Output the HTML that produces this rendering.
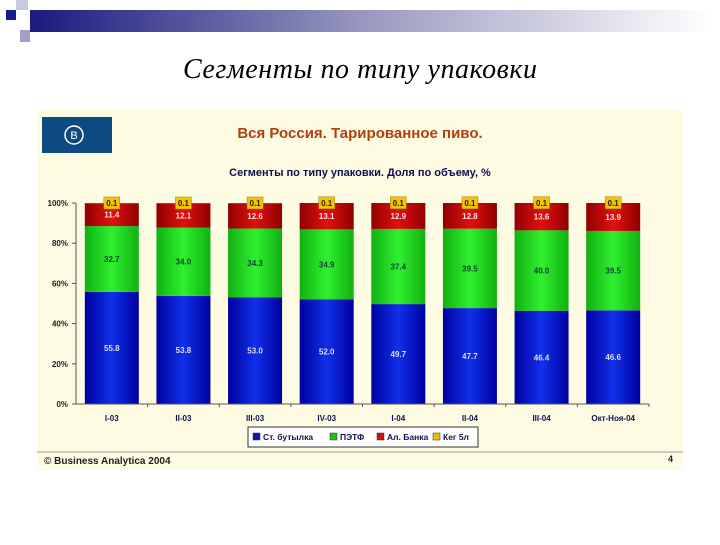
<!DOCTYPE html>
<html><head><meta charset="utf-8"><style>
body{margin:0;width:720px;height:540px;background:#fff;overflow:hidden;font-family:"Liberation Sans",sans-serif}
</style></head><body>
<svg width="720" height="540" xmlns="http://www.w3.org/2000/svg">
<defs>
<linearGradient id="ban" x1="0" x2="1"><stop offset="0" stop-color="#1a1a80"/><stop offset="0.5" stop-color="#9a9ac0"/><stop offset="1" stop-color="#fff"/></linearGradient>
<linearGradient id="gb" x1="0" x2="1"><stop offset="0" stop-color="#0000a0"/><stop offset="0.5" stop-color="#1030e8"/><stop offset="1" stop-color="#0000a0"/></linearGradient>
<linearGradient id="gg" x1="0" x2="1"><stop offset="0" stop-color="#10b010"/><stop offset="0.5" stop-color="#30f030"/><stop offset="1" stop-color="#10b010"/></linearGradient>
<linearGradient id="gr" x1="0" x2="1"><stop offset="0" stop-color="#900000"/><stop offset="0.5" stop-color="#e01010"/><stop offset="1" stop-color="#900000"/></linearGradient>
</defs>
<g>
<rect x="30" y="10" width="680" height="22" fill="url(#ban)"/>
<rect x="6" y="10" width="10" height="10" fill="#1a1a90"/>
<rect x="16" y="0" width="12" height="10" fill="#c8c8e0"/>
<rect x="20" y="30" width="10" height="12" fill="#a0a0c8"/>
</g>
<text x="360" y="78" text-anchor="middle" font-family="Liberation Serif" font-style="italic" font-size="28" textLength="354">Сегменты по типу упаковки</text>
<rect x="37" y="110" width="646" height="360" fill="#fdfbe2"/>
<rect x="42" y="117" width="70" height="36" fill="#0e4a80"/>
<circle cx="74" cy="135" r="9" fill="none" stroke="#fff" stroke-width="1.5"/>
<text x="74" y="139" text-anchor="middle" fill="#fff" font-size="11">B</text>
<text x="360" y="138" text-anchor="middle" fill="#b04010" font-weight="bold" font-size="15">Вся Россия. Тарированное пиво.</text>
<text x="360" y="176" text-anchor="middle" fill="#101050" font-weight="bold" font-size="11">Сегменты по типу упаковки. Доля по объему, %</text>
<g id="plot"></g>
<line x1="37" y1="452" x2="683" y2="452" stroke="#999"/>
<text x="44" y="464" font-size="10" font-weight="bold" fill="#222">© Business Analytica 2004</text>
<text x="668" y="462" font-size="9" font-weight="bold" fill="#222">4</text>
</svg>
<script>
const categories=["I-03","II-03","III-03","IV-03","I-04","II-04","III-04","Окт-Ноя-04"];
const bottle=[55.8,53.8,53.0,52.0,49.7,47.7,46.4,46.6];
const pet=[32.7,34.0,34.3,34.9,37.4,39.5,40.0,39.5];
const can=[11.4,12.1,12.6,13.1,12.9,12.8,13.6,13.9];
const keg=[0.1,0.1,0.1,0.1,0.1,0.1,0.1,0.1];
const yTicks=[0,20,40,60,80,100];
const NS="http://www.w3.org/2000/svg";
const g=document.getElementById('plot');
const x0=76,x1=649,y0=404,y1=203,step=(x1-x0)/categories.length,bw=54;
const y=v=>y0-(v/100)*(y0-y1);
const xc=i=>x0+step*(i+0.5);
function el(t,a,p){const e=document.createElementNS(NS,t);for(const k in a)e.setAttribute(k,a[k]);(p||g).appendChild(e);return e;}
yTicks.forEach(t=>{
const tl=el('line',{x1:x0-4,x2:x0,y1:y(t),y2:y(t),stroke:'#555'});


const tx=el('text',{x:x0-8,y:y(t)+3,'text-anchor':'end','font-size':8,'font-weight':'bold',fill:'#222'});
tx.textContent=t+'%';


});
const series=[[bottle,'url(#gb)','#dde','bottle'],[pet,'url(#gg)','#143','pet'],[can,'url(#gr)','#fdd','can']];
categories.forEach((c,i)=>{
let acc=0;
series.forEach(([arr,fill,tc,nm])=>{
const v=arr[i],top=y(acc+v),bot=y(acc);
const r=el('rect',{x:xc(i)-bw/2,y:top,width:bw,height:bot-top,fill:fill});


const t=el('text',{x:xc(i),y:(top+bot)/2+3,'text-anchor':'middle','font-size':8,'font-weight':'bold',fill:tc});
t.textContent=v.toFixed(1);


acc+=v;
});
const kt=y(acc+keg[i]);
const kb=el('rect',{x:xc(i)-8,y:kt-6,width:16,height:12,fill:'#f5c400',stroke:'#a08000','stroke-width':0.5});


const kl=el('text',{x:xc(i),y:kt+3,'text-anchor':'middle','font-size':8,'font-weight':'bold',fill:'#222'});
kl.textContent=keg[i].toFixed(1);


const cl=el('text',{x:xc(i),y:421,'text-anchor':'middle','font-size':8,'font-weight':'bold',fill:'#101050'});
cl.textContent=c;


const xt=el('line',{x1:x0+step*(i+1),x2:x0+step*(i+1),y1:y0,y2:y0+3,stroke:'#555'});


});
const ya=el('line',{x1:x0,x2:x0,y1:y1,y2:y0,stroke:'#555'});


const xa=el('line',{x1:x0,x2:x1,y1:y0,y2:y0,stroke:'#555'});


const lg=el('g',{});


el('rect',{x:248,y:427,width:230,height:20,fill:'#fff',stroke:'#333'},lg);
[['Ст. бутылка','#1010c0',253],['ПЭТФ','#20c020',330],['Ал. Банка','#d01010',377],['Кег 5л','#e8c000',433]].forEach(([n,c,lx])=>{
const sw=el('rect',{x:lx,y:433,width:7,height:7,fill:c,stroke:'#333','stroke-width':0.5},lg);


const t=el('text',{x:lx+10,y:440,'font-size':8.5,fill:'#101050','font-weight':'bold'},lg);
t.textContent=n;


});
</script>
</body></html>
